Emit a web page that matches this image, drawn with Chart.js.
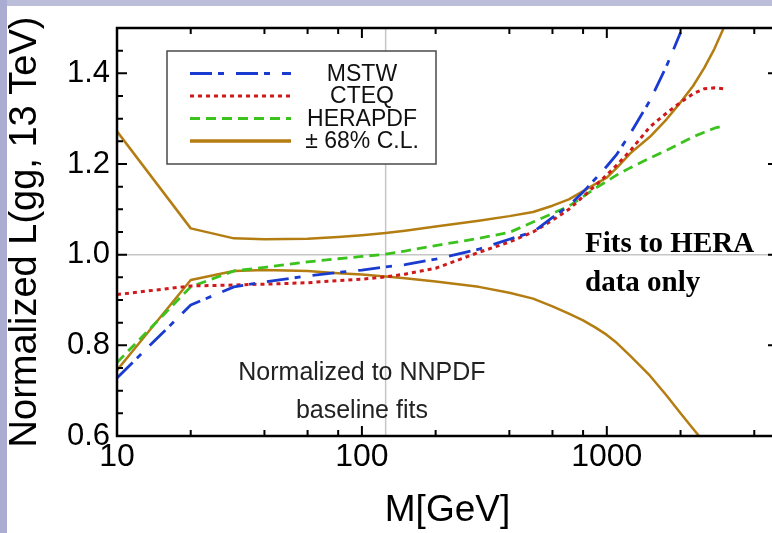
<!DOCTYPE html>
<html>
<head>
<meta charset="utf-8">
<script src="https://cdn.jsdelivr.net/npm/chart.js@4.4.1/dist/chart.umd.min.js"></script>
<style>
  html, body { margin: 0; padding: 0; background: #ffffff; overflow: hidden; width: 772px; height: 533px; }
  #wrap { position: absolute; left: 0; top: 0; width: 792px; height: 533px; }
  .band-top { position: absolute; left: 0; top: 0; width: 772px; height: 6px; background: #bcbed9; }
  .band-left { position: absolute; left: 0; top: 0; width: 7px; height: 533px; background: #aaadd1; }
</style>
</head>
<body>
<div id="wrap"><canvas id="c" width="792" height="533"></canvas></div>
<div class="band-top"></div>
<div class="band-left"></div>
<script>
// Invariant mass grid (GeV)
const masses = [10, 20, 30, 40, 60, 80, 100, 125, 150, 200, 300, 400, 500, 600, 700, 800, 900, 1000, 1100, 1250, 1500, 1750, 2000, 2250, 2500, 2750, 3000];

// gg luminosity ratios to NNPDF, fits to HERA data only
const mstw    = [0.728, 0.889, 0.929, 0.940, 0.953, 0.961, 0.966, 0.973, 0.978, 0.990, 1.012, 1.034, 1.050, 1.082, 1.108, 1.138, 1.168, 1.195, 1.222, 1.268, 1.340, 1.415, 1.490, null, null, null, null];
const cteq    = [0.912, 0.931, 0.933, 0.935, 0.938, 0.943, 0.946, 0.951, 0.957, 0.970, 1.005, 1.028, 1.050, 1.076, 1.100, 1.128, 1.153, 1.176, 1.198, 1.230, 1.282, 1.312, 1.336, 1.355, 1.366, 1.368, 1.366];
const herapdf = [0.762, 0.929, 0.964, 0.972, 0.984, 0.991, 0.996, 1.001, 1.008, 1.020, 1.036, 1.049, 1.072, 1.091, 1.107, 1.128, 1.147, 1.162, 1.176, 1.192, 1.213, 1.230, 1.246, 1.260, 1.270, 1.279, 1.284];
const clUpper = [1.272, 1.058, 1.036, 1.034, 1.035, 1.039, 1.043, 1.048, 1.053, 1.062, 1.075, 1.085, 1.094, 1.108, 1.122, 1.140, 1.156, 1.170, 1.192, 1.224, 1.260, 1.298, 1.336, 1.372, 1.412, 1.454, 1.500];
const clLower = [0.745, 0.944, 0.964, 0.966, 0.964, 0.959, 0.956, 0.952, 0.948, 0.941, 0.929, 0.916, 0.903, 0.886, 0.870, 0.855, 0.839, 0.823, 0.805, 0.776, 0.733, 0.690, 0.650, 0.616, 0.586, null, null];

// Axis ticks
const xMajorTicks = [10, 100, 1000];
const xMinorTicks = [20, 40, 60, 80, 200, 400, 600, 800, 2000, 4000];
const yMajorTicks = [0.6, 0.8, 1.0, 1.2, 1.4];
const legendNames = ['MSTW', 'CTEQ', 'HERAPDF', '\u00B1 68% C.L.'];

// Reference lines: Higgs mass and unit ratio
const higgsMass = 125;
const unitRatio = 1.0;

const SANS = '"Liberation Sans", Arial, Helvetica, sans-serif';
const SERIF = '"Liberation Serif", "Times New Roman", serif';

const BLUE = '#1a3bcf', RED = '#d0191b', GREEN = '#3cc21d', GOLD = '#b47d12';
const DASH_BLUE = [22, 6, 6, 12], DASH_RED = [4, 4], DASH_GREEN = [10, 6];

const pts = arr => masses.map((m, i) => ({ x: m, y: arr[i] }));

const legendStyles = [
  { color: BLUE, dash: DASH_BLUE, width: 2.8 },
  { color: RED, dash: DASH_RED, width: 3 },
  { color: GREEN, dash: DASH_GREEN, width: 2.8 },
  { color: GOLD, dash: [], width: 3.5 }
];

const decor = {
  id: 'decor',
  beforeDatasetsDraw(chart) {
    const { ctx, chartArea: a, scales: { x, y } } = chart;
    ctx.save();
    ctx.strokeStyle = '#c6c6c6';
    ctx.lineWidth = 1.5;
    ctx.beginPath();
    const hx = x.getPixelForValue(higgsMass);
    ctx.moveTo(hx, a.top); ctx.lineTo(hx, a.bottom);
    const hy = y.getPixelForValue(unitRatio);
    ctx.moveTo(a.left, hy); ctx.lineTo(a.right, hy);
    ctx.stroke();
    ctx.restore();
  },
  afterDatasetsDraw(chart) {
    const { ctx, chartArea: a, scales: { x, y } } = chart;
    ctx.save();
    // frame
    ctx.strokeStyle = '#000';
    ctx.lineWidth = 2.5;
    ctx.strokeRect(a.left, a.top, a.right - a.left, a.bottom - a.top);
    // inward tick marks
    ctx.lineWidth = 2;
    ctx.beginPath();
    for (let k = 12; k <= 30; k++) {
      const v = k * 0.05;
      const major = k % 4 === 0;
      const len = major ? 10 : 6;
      const py = y.getPixelForValue(v);
      ctx.moveTo(a.left, py); ctx.lineTo(a.left + len, py);
      ctx.moveTo(a.right, py); ctx.lineTo(a.right - len, py);
    }
    const xt = (v, len) => {
      const px = x.getPixelForValue(v);
      ctx.moveTo(px, a.bottom); ctx.lineTo(px, a.bottom - len);
      ctx.moveTo(px, a.top); ctx.lineTo(px, a.top + len);
    };
    xMajorTicks.forEach(v => xt(v, 10));
    xMinorTicks.forEach(v => xt(v, 6));
    ctx.stroke();

    // legend box
    ctx.fillStyle = '#fff';
    ctx.fillRect(167, 51, 269, 113);
    ctx.strokeStyle = '#4a4a4a';
    ctx.lineWidth = 1.5;
    ctx.strokeRect(167, 51, 269, 113);
    ctx.font = '23px ' + SANS;
    ctx.textAlign = 'center';
    ctx.textBaseline = 'middle';
    legendNames.forEach((name, i) => {
      const ry = 73.5 + i * 22.5;
      const s = legendStyles[i];
      ctx.strokeStyle = s.color;
      ctx.lineWidth = s.width;
      ctx.setLineDash(s.dash);
      ctx.beginPath(); ctx.moveTo(190, ry); ctx.lineTo(291, ry); ctx.stroke();
      ctx.setLineDash([]);
      ctx.fillStyle = '#111';
      ctx.fillText(name, 362, ry + 1);
    });

    // notes
    ctx.fillStyle = '#222';
    ctx.font = '25px ' + SANS;
    ctx.textBaseline = 'alphabetic';
    ctx.textAlign = 'center';
    const cx = x.getPixelForValue(100);
    ctx.fillText('Normalized to NNPDF', cx, 380);
    ctx.fillText('baseline fits', cx, 418);
    ctx.fillStyle = '#000';
    ctx.font = 'bold 29px ' + SERIF;
    ctx.textAlign = 'left';
    ctx.fillText('Fits to HERA', 585, 252);
    ctx.fillText('data only', 585, 291);
    ctx.restore();
  }
};

new Chart(document.getElementById('c'), {
  type: 'line',
  data: {
    datasets: [
      { label: 'MSTW', data: pts(mstw), borderColor: BLUE, borderWidth: 2.8, borderDash: DASH_BLUE, order: 1 },
      { label: 'CTEQ', data: pts(cteq), borderColor: RED, borderWidth: 3, borderDash: DASH_RED, order: 2 },
      { label: 'HERAPDF', data: pts(herapdf), borderColor: GREEN, borderWidth: 2.8, borderDash: DASH_GREEN, order: 3 },
      { label: '68% C.L. upper', data: pts(clUpper), borderColor: GOLD, borderWidth: 2.5, order: 4 },
      { label: '68% C.L. lower', data: pts(clLower), borderColor: GOLD, borderWidth: 2.5, order: 5 }
    ]
  },
  options: {
    responsive: false,
    animation: false,
    elements: { point: { radius: 0 }, line: { tension: 0, fill: false, borderJoinStyle: 'round' } },
    layout: { padding: { left: 0, top: 28, right: 14, bottom: 0 } },
    plugins: { legend: { display: false }, tooltip: { enabled: false } },
    scales: {
      x: {
        type: 'logarithmic',
        min: 10,
        max: 5000,
        grid: { display: false, drawTicks: false },
        border: { display: false },
        afterBuildTicks: s => { s.ticks = xMajorTicks.map(v => ({ value: v, major: true })); },
        afterFit: s => { s.height = 97; },
        ticks: {
          autoSkip: false,
          maxRotation: 0,
          padding: 2,
          color: '#000',
          font: { family: SANS, size: 32 },
          callback: v => String(v)
        },
        title: {
          display: true,
          text: 'M[GeV]',
          color: '#000',
          font: { family: SANS, size: 37 },
          padding: { top: 0, bottom: 0 }
        }
      },
      y: {
        type: 'linear',
        min: 0.6,
        max: 1.5,
        grid: { display: false, drawTicks: false },
        border: { display: false },
        afterBuildTicks: s => { s.ticks = yMajorTicks.map(v => ({ value: v })); },
        afterFit: s => { s.width = 117; },
        ticks: {
          autoSkip: false,
          padding: 7,
          color: '#000',
          font: { family: SANS, size: 31 },
          callback: v => Number(v).toFixed(1)
        },
        title: {
          display: true,
          text: 'Normalized L(gg, 13 TeV)',
          color: '#000',
          font: { family: SANS, size: 38 },
          padding: { top: 3, bottom: 0 }
        }
      }
    }
  },
  plugins: [decor]
});
</script>
</body>
</html>
